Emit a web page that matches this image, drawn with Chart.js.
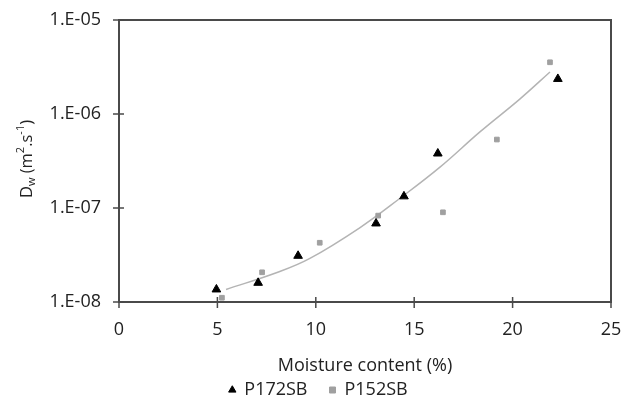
<!DOCTYPE html>
<html>
<head>
<meta charset="utf-8">
<script src="https://cdn.jsdelivr.net/npm/chart.js@4/dist/chart.umd.min.js"></script>
<style>
  body { margin: 0; background: #fff; }
  #wrap { width: 623px; height: 397px; }
</style>
</head>
<body>
<div id="wrap"><canvas id="dwChart" width="623" height="397"></canvas></div>
<script>
// P172SB (triangles)
var moistureA = [4.95, 7.07, 9.1, 13.06, 14.48, 16.2, 22.3];
var dwA = [1.36e-8, 1.6e-8, 3.1e-8, 6.85e-8, 1.33e-7, 3.8e-7, 2.36e-6];
// P152SB (squares)
var moistureB = [5.23, 7.27, 10.2, 13.17, 16.46, 19.2, 21.9];
var dwB = [1.11e-8, 2.07e-8, 4.27e-8, 8.3e-8, 9.0e-8, 5.35e-7, 3.55e-6];
// trend curve
var trendX = [5.44, 8.03, 9.7, 12.25, 14.28, 16.31, 18.34, 20.38, 21.9];
var trendY = [1.36e-8, 2.06e-8, 2.91e-8, 6.2e-8, 1.27e-7, 2.72e-7, 6.45e-7, 1.45e-6, 2.8e-6];

var yTickValues = [1e-8, 1e-7, 1e-6, 1e-5];
var yTickLabels = ['1.E-08', '1.E-07', '1.E-06', '1.E-05'];
var xTickValues = [0, 5, 10, 15, 20, 25];

function toPoints(xs, ys) {
    return xs.map(function (x, i) { return {x: x, y: ys[i]}; });
}

var textColor = '#222';
var font = "'Open Sans', sans-serif";

// frame, crossing tick marks and the y title with sub/superscripts
var framePlugin = {
    id: 'frame',
    afterDatasetsDraw: function (chart) {
        var ctx = chart.ctx, a = chart.chartArea;
        var xs = chart.scales.x, ys = chart.scales.y;
        ctx.save();
        ctx.strokeStyle = '#4a4a4a';
        ctx.lineWidth = 2;
        ctx.beginPath();
        ctx.moveTo(a.left, a.top);
        ctx.lineTo(a.right, a.top);
        ctx.lineTo(a.right, a.bottom);
        ctx.lineTo(a.left, a.bottom);
        ctx.closePath();
        ctx.stroke();
        ctx.lineWidth = 1.5;
        ctx.beginPath();
        yTickValues.forEach(function (v) {
            var y = ys.getPixelForValue(v);
            ctx.moveTo(a.left - 6, y);
            ctx.lineTo(a.left + 5, y);
        });
        xTickValues.forEach(function (v) {
            var x = xs.getPixelForValue(v);
            ctx.moveTo(x, a.bottom - 5);
            ctx.lineTo(x, a.bottom + 6);
        });
        ctx.stroke();

        // y axis title: D_w (m^2.s^-1)
        ctx.translate(27, 159);
        ctx.rotate(-Math.PI / 2);
        ctx.fillStyle = textColor;
        ctx.textBaseline = 'middle';
        var parts = [
            ['D', 16.5, 0], ['w', 11, 5], [' (m', 16.5, 0], ['2', 11, -6],
            ['.s', 16.5, 0], ['-1', 11, -6], [')', 16.5, 0]
        ];
        var total = 0;
        parts.forEach(function (p) {
            ctx.font = p[1] + 'px ' + font;
            total += ctx.measureText(p[0]).width;
        });
        var cx = -total / 2;
        parts.forEach(function (p) {
            ctx.font = p[1] + 'px ' + font;
            ctx.fillText(p[0], cx, p[2]);
            cx += ctx.measureText(p[0]).width;
        });
        ctx.restore();
    }
};

var ctx = document.getElementById('dwChart');
var dwChart = new Chart(ctx, {
    type: 'scatter',
    data: {
        datasets: [{
            label: 'P172SB',
            data: toPoints(moistureA, dwA),
            pointStyle: 'triangle',
            pointRadius: 5,
            backgroundColor: '#000',
            borderColor: '#000',
            borderWidth: 1
        }, {
            label: 'P152SB',
            data: toPoints(moistureB, dwB),
            pointStyle: 'rect',
            pointRadius: 3.3,
            backgroundColor: '#a0a0a0',
            borderColor: '#a0a0a0',
            borderWidth: 1
        }, {
            label: 'trend',
            data: toPoints(trendX, trendY),
            showLine: true,
            pointRadius: 0,
            borderColor: '#b4b4b4',
            borderWidth: 1.5,
            tension: 0.4
        }]
    },
    options: {
        responsive: false,
        animation: false,
        layout: { padding: { top: 20, right: 12, left: 26, bottom: -12 } },
        plugins: {
            tooltip: { enabled: false },
            legend: {
                position: 'bottom',
                labels: {
                    usePointStyle: true,
                    boxWidth: 6,
                    boxHeight: 6,
                    padding: 22,
                    color: textColor,
                    font: { family: font, size: 18 },
                    filter: function (item) { return item.text !== 'trend'; }
                }
            }
        },
        scales: {
            x: {
                type: 'linear',
                min: 0,
                max: 25,
                afterBuildTicks: function (scale) {
                    scale.ticks = xTickValues.map(function (v) { return {value: v}; });
                },
                afterFit: function (scale) {
                    scale.height = 57;
                    scale.paddingLeft = 0;
                    scale.paddingRight = 0;
                },
                grid: { display: false, drawTicks: false },
                border: { display: false },
                ticks: { padding: 17, color: textColor, font: { family: font, size: 18 } },
                title: {
                    display: true,
                    text: 'Moisture content (%)',
                    color: textColor,
                    font: { family: font, size: 18 },
                    padding: { top: 0, bottom: -17.8 }
                }
            },
            y: {
                type: 'logarithmic',
                min: 1e-8,
                max: 1e-5,
                afterBuildTicks: function (scale) {
                    scale.ticks = yTickValues.map(function (v) { return {value: v}; });
                },
                afterFit: function (scale) {
                    scale.width = 93;
                    scale.paddingTop = 0;
                    scale.paddingBottom = 0;
                },
                grid: { display: false, drawTicks: false },
                border: { display: false },
                ticks: {
                    padding: 18,
                    color: textColor,
                    font: { family: font, size: 18 },
                    callback: function (value) {
                        var i = yTickValues.indexOf(value);
                        return i >= 0 ? yTickLabels[i] : '';
                    }
                }
            }
        }
    },
    plugins: [framePlugin]
});
</script>
</body>
</html>
